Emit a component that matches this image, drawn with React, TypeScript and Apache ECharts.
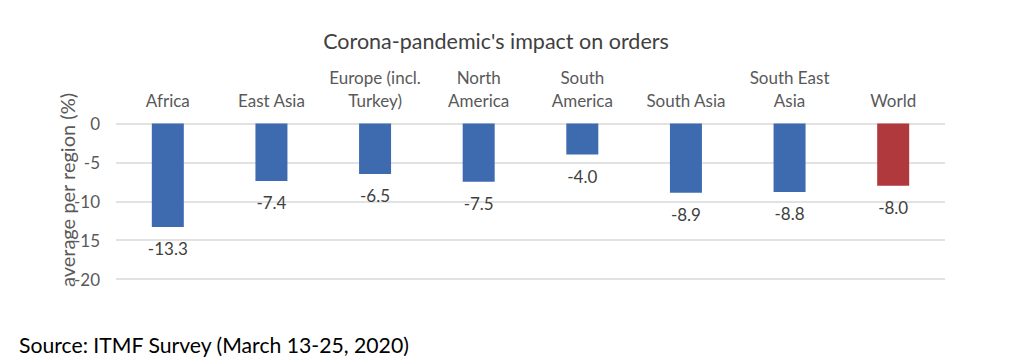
import React, { useEffect, useRef } from "react";
import * as echarts from "echarts";

const categories = [
  "Africa",
  "East Asia",
  "Europe (incl.\nTurkey)",
  "North\nAmerica",
  "South\nAmerica",
  "South Asia",
  "South East\nAsia",
  "World",
];
const values = [-13.3, -7.4, -6.5, -7.5, -4.0, -8.9, -8.8, -8.0];
const barColors = ["#3E6BB0", "#3E6BB0", "#3E6BB0", "#3E6BB0", "#3E6BB0", "#3E6BB0", "#3E6BB0", "#B0393D"];
const yTicks = { min: -20, max: 0, interval: 5 };
const titleText = "Corona-pandemic's impact on orders";
const yAxisName = "average per region (%)";
const sourceText = "Source: ITMF Survey (March 13-25, 2020)";

const FONT = "Lato, 'Open Sans', sans-serif";

export default function App() {
  const ref = useRef<HTMLDivElement>(null);
  useEffect(() => {
    if (!ref.current) return;
    const chart = echarts.init(ref.current, null, { renderer: "svg" });
    chart.setOption({
      animation: false,
      textStyle: { fontFamily: FONT },
      title: [
        {
          text: titleText,
          left: 491,
          top: 25,
          textAlign: "center",
          textStyle: { fontSize: 21.5, fontWeight: "normal", color: "#404040", fontFamily: FONT },
        },
        {
          text: sourceText,
          left: 14,
          top: 329,
          textStyle: { fontSize: 21.2, fontWeight: "normal", color: "#000000", fontFamily: FONT },
        },
      ],
      graphic: [
        {
          type: "text",
          x: 67,
          y: 190,
          rotation: Math.PI / 2,
          style: {
            text: yAxisName,
            fontSize: 20,
            fontFamily: FONT,
            fill: "#595959",
            align: "center",
            verticalAlign: "middle",
          },
        },
      ],
      grid: { left: 116, right: 90, top: 123.5, bottom: 85, containLabel: false },
      xAxis: {
        type: "category",
        position: "top",
        data: categories,
        axisLine: { show: false },
        axisTick: { show: false },
        axisLabel: {
          interval: 0,
          margin: 12,
          fontSize: 17,
          lineHeight: 23,
          color: "#595959",
          fontFamily: FONT,
        },
      },
      yAxis: {
        type: "value",
        min: yTicks.min,
        max: yTicks.max,
        interval: yTicks.interval,
        axisLine: { show: false },
        axisTick: { show: false },
        axisLabel: { fontSize: 17, color: "#595959", margin: 16, fontFamily: FONT },
        splitLine: { lineStyle: { color: "#D9D9D9", width: 1.5 } },
      },
      series: [
        {
          type: "bar",
          barWidth: 32,
          data: values.map((v, i) => ({ value: v, itemStyle: { color: barColors[i] } })),
          label: {
            show: true,
            position: "bottom",
            distance: 13,
            fontSize: 17,
            color: "#404040",
            fontFamily: FONT,
            formatter: (p: any) => Number(p.value).toFixed(1),
          },
        },
      ],
    });
    return () => chart.dispose();
  }, []);
  return (
    <div
      ref={ref}
      style={{ position: "fixed", left: 0, top: 0, width: 1035, height: 364, background: "#fff" }}
    />
  );
}
